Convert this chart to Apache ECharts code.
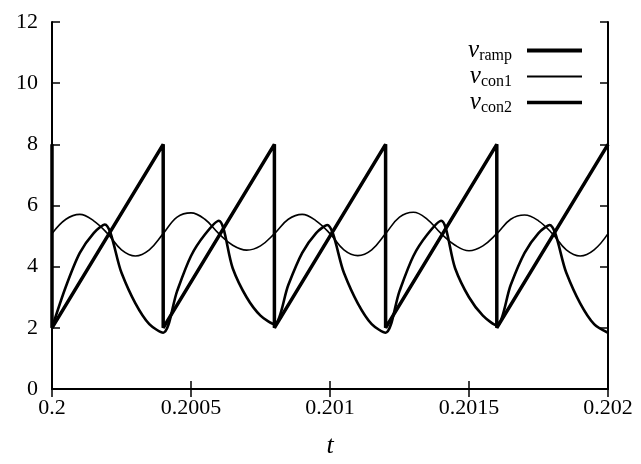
<!DOCTYPE html>
<html>
<head>
<meta charset="utf-8">
<script src="https://cdn.jsdelivr.net/npm/echarts@6/dist/echarts.min.js"></script>
<style>
  html, body { margin: 0; padding: 0; background: #fff; }
  #chart { width: 641px; height: 464px; }
</style>
</head>
<body>
<div id="chart"></div>
<script>
// ramp: sawtooth 2 -> 8, reset every 0.0004
var rampT = [0.2, 0.2, 0.2004, 0.2004, 0.2008, 0.2008, 0.2012, 0.2012, 0.2016, 0.2016, 0.202];
var rampV = [8, 2, 8, 2, 8, 2, 8, 2, 8, 2, 8];

// v_con1 (thin)
var con1T = [0.2, 0.20005, 0.2001, 0.20015, 0.2002, 0.20025, 0.2003, 0.20035,
  0.2004, 0.20045, 0.2005, 0.20055, 0.2006, 0.20065, 0.2007, 0.20075,
  0.2008, 0.20085, 0.2009, 0.20095, 0.201, 0.20105, 0.2011, 0.20115,
  0.2012, 0.20125, 0.2013, 0.20135, 0.2014, 0.20145, 0.2015, 0.20155,
  0.2016, 0.20165, 0.2017, 0.20175, 0.2018, 0.20185, 0.2019, 0.20195, 0.202];
var con1V = [5.08, 5.55, 5.71, 5.5, 5.08, 4.55, 4.35, 4.55,
  5.08, 5.62, 5.76, 5.55, 5.08, 4.7, 4.54, 4.68,
  5.08, 5.55, 5.71, 5.5, 5.08, 4.55, 4.36, 4.55,
  5.08, 5.62, 5.78, 5.55, 5.08, 4.7, 4.52, 4.68,
  5.08, 5.55, 5.69, 5.5, 5.08, 4.55, 4.35, 4.55, 5.08];

// v_con2 (thick)
var con2T = [0.2, 0.20005, 0.2001, 0.20015, 0.20019, 0.20025, 0.2003, 0.20035,
  0.2004, 0.20045, 0.2005, 0.20055, 0.2006, 0.20065, 0.2007, 0.20075,
  0.2008, 0.20085, 0.2009, 0.20095, 0.20099, 0.20105, 0.2011, 0.20115,
  0.2012, 0.20125, 0.2013, 0.20135, 0.2014, 0.20145, 0.2015, 0.20155,
  0.2016, 0.20165, 0.2017, 0.20175, 0.20179, 0.20185, 0.2019, 0.20195, 0.202];
var con2V = [2.0, 3.35, 4.45, 5.1, 5.38, 3.8, 2.8, 2.12,
  1.84, 3.2, 4.35, 5.05, 5.5, 3.95, 3.0, 2.4,
  2.12, 3.4, 4.45, 5.1, 5.36, 3.8, 2.8, 2.12,
  1.84, 3.2, 4.35, 5.05, 5.5, 3.95, 3.0, 2.4,
  2.08, 3.4, 4.45, 5.1, 5.36, 3.8, 2.8, 2.12, 1.84];

var xTicks = ['0.2', '0.2005', '0.201', '0.2015', '0.202'];

function pairs(t, v) {
  var out = [];
  for (var i = 0; i < t.length; i++) out.push([t[i], v[i]]);
  return out;
}

var font = 'Liberation Serif';
var chart = echarts.init(document.getElementById('chart'));

var legendRich = {
  v: { fontFamily: font, fontStyle: 'italic', fontSize: 25, color: '#000', verticalAlign: 'middle' },
  s: { fontFamily: font, fontSize: 16, color: '#000', verticalAlign: 'bottom', padding: [11, 0, 0, 0] }
};

chart.setOption({
  animation: false,
  backgroundColor: '#fff',
  color: ['#000', '#000', '#000'],
  grid: { left: 52, right: 33, top: 22, bottom: 64 },
  legend: {
    orient: 'vertical',
    right: 52,
    top: 33,
    align: 'right',
    itemWidth: 55,
    itemHeight: 12,
    itemGap: 0,
    itemStyle: { opacity: 0 },
    textStyle: { padding: [0, 10, 0, 0], rich: legendRich },
    formatter: function (name) {
      return '{v|v}{s|' + name + '}';
    },
    data: [
      { name: 'ramp', lineStyle: { color: '#000', width: 4 } },
      { name: 'con1', lineStyle: { color: '#000', width: 2 } },
      { name: 'con2', lineStyle: { color: '#000', width: 3.5 } }
    ]
  },
  xAxis: [{
    type: 'value', min: 0.2, max: 0.202, interval: 0.0005,
    name: 't', nameLocation: 'middle', nameGap: 44,
    nameTextStyle: { fontFamily: font, fontStyle: 'italic', fontSize: 26, color: '#000' },
    axisLine: { lineStyle: { color: '#000', width: 2 } },
    axisTick: { inside: true, length: 8, lineStyle: { color: '#000', width: 1.5 } },
    axisLabel: {
      margin: 8, fontFamily: font, fontSize: 22, color: '#000',
      formatter: function (v) { return xTicks[Math.round((v - 0.2) / 0.0005)]; }
    },
    splitLine: { show: false }
  }, {
    type: 'value', position: 'top', min: 0.2, max: 0.202, interval: 0.0005,
    axisLine: { lineStyle: { color: '#000', width: 2 } },
    axisTick: { inside: true, length: 8, lineStyle: { color: '#000', width: 1.5 } },
    axisLabel: { show: false },
    splitLine: { show: false }
  }],
  yAxis: [{
    type: 'value', min: 0, max: 12, interval: 2,
    axisLine: { lineStyle: { color: '#000', width: 2 } },
    axisTick: { inside: true, length: 8, lineStyle: { color: '#000', width: 1.5 } },
    axisLabel: { margin: 14, fontFamily: font, fontSize: 22, color: '#000' },
    splitLine: { show: false }
  }, {
    type: 'value', position: 'right', min: 0, max: 12, interval: 2,
    axisLine: { lineStyle: { color: '#000', width: 2 } },
    axisTick: { inside: true, length: 8, lineStyle: { color: '#000', width: 1.5 } },
    axisLabel: { show: false },
    splitLine: { show: false }
  }],
  series: [{
    name: 'ramp', type: 'line', symbol: 'none',
    data: pairs(rampT, rampV),
    itemStyle: { color: '#000' },
    lineStyle: { color: '#000', width: 3.5 }
  }, {
    name: 'con1', type: 'line', symbol: 'none', smooth: 0.4,
    data: pairs(con1T, con1V),
    itemStyle: { color: '#000' },
    lineStyle: { color: '#000', width: 1.6 }
  }, {
    name: 'con2', type: 'line', symbol: 'none', smooth: 0.3,
    data: pairs(con2T, con2V),
    itemStyle: { color: '#000' },
    lineStyle: { color: '#000', width: 2.6 }
  }]
});
</script>
</body>
</html>
